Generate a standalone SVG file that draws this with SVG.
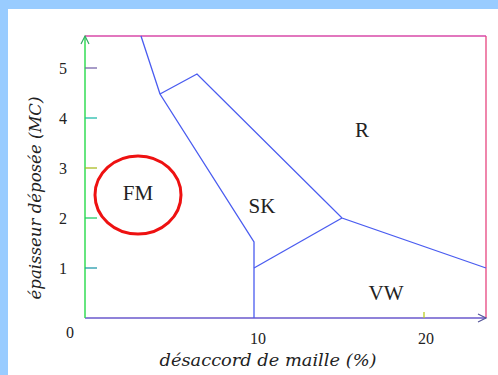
<svg xmlns="http://www.w3.org/2000/svg" width="498" height="375" viewBox="0 0 498 375">
<style>
.t{font-family:"Liberation Serif","Times New Roman",serif;fill:#222}
.num{font-size:16px;text-anchor:middle}
.reg{font-size:21px;text-anchor:middle}
.lab{font-family:"DejaVu Serif","Liberation Serif",serif;font-size:17px;font-style:italic;text-anchor:middle}
.ln{stroke:#4a5cf0;stroke-width:1.3;fill:none}
</style>
<rect x="0" y="0" width="498" height="375" fill="#ffffff"/>
<rect x="0" y="0" width="498" height="9" fill="#99ccff"/>
<rect x="0" y="0" width="8" height="375" fill="#99ccff"/>
<g id="axes">
<line x1="85" y1="36" x2="486" y2="36" stroke="#d94aa8" stroke-width="1.3"/>
<line x1="486" y1="36" x2="486" y2="318" stroke="#e6447f" stroke-width="1.3"/>
<line x1="85" y1="318" x2="486" y2="318" stroke="#6a58cc" stroke-width="1.3"/>
<line x1="85" y1="36" x2="85" y2="318" stroke="#33dd55" stroke-width="1.5"/>
<polyline points="81,44 85,36 89,44" fill="none" stroke="#33aa66" stroke-width="1.2"/>
<polyline points="478,314 486,318 478,322" fill="none" stroke="#555599" stroke-width="1.2"/>
<line x1="85" y1="68" x2="97" y2="68" stroke="#7766aa" stroke-width="1.3"/>
<line x1="85" y1="118" x2="97" y2="118" stroke="#22bbaa" stroke-width="1.3"/>
<line x1="85" y1="168" x2="97" y2="168" stroke="#aabb22" stroke-width="1.3"/>
<line x1="85" y1="218" x2="97" y2="218" stroke="#22cc66" stroke-width="1.3"/>
<line x1="85" y1="268" x2="97" y2="268" stroke="#2299aa" stroke-width="1.3"/>
<line x1="424" y1="312" x2="424" y2="318" stroke="#bbcc22" stroke-width="1.3"/>
</g>
<g id="ticklabels">
<text class="t num" x="63" y="74">5</text>
<text class="t num" x="63" y="124">4</text>
<text class="t num" x="63" y="174">3</text>
<text class="t num" x="63" y="224">2</text>
<text class="t num" x="63" y="274" fill="#b03060">1</text>
<text class="t num" x="70" y="338">0</text>
<text class="t num" x="258" y="344">10</text>
<text class="t num" x="426" y="344">20</text>
</g>
<g id="axis-labels">
<text class="t lab" x="268" y="366" textLength="217" lengthAdjust="spacingAndGlyphs">désaccord de maille (%)</text>
<text class="t lab" transform="translate(41,198) rotate(-90)" x="0" y="0" textLength="203" lengthAdjust="spacingAndGlyphs">épaisseur déposée (MC)</text>
</g>
<g id="connectors">
<polyline class="ln" points="141,36 160,94 254,242 254,318"/>
<polyline class="ln" points="160,94 197,74 342,218 486,268"/>
<polyline class="ln" points="254,268 342,218"/>
</g>
<g id="FM">
<ellipse cx="138" cy="195" rx="43" ry="39" fill="none" stroke="#ee1111" stroke-width="3"/>
<text class="t reg" x="138" y="200">FM</text>
</g>
<g id="SK"><text class="t reg" x="262" y="213">SK</text></g>
<g id="R"><text class="t reg" x="362" y="137">R</text></g>
<g id="VW"><text class="t reg" x="386" y="300">VW</text></g>
</svg>
